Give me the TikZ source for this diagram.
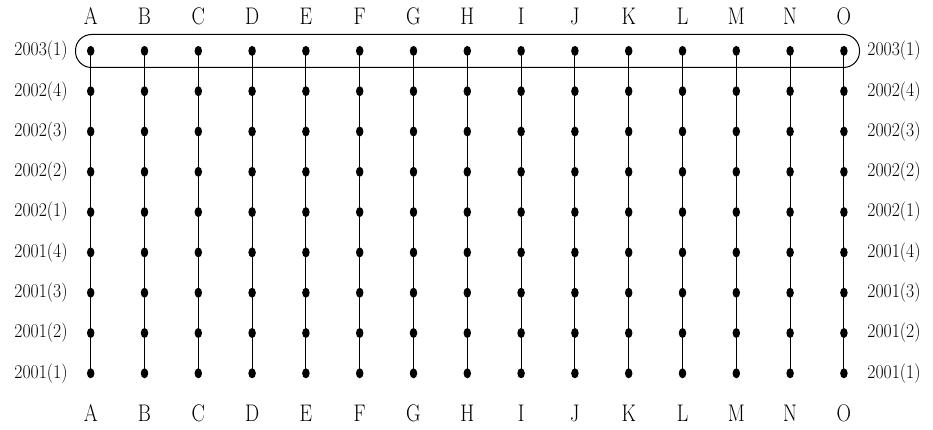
\documentclass[tikz,border=0pt]{standalone}
\usepackage{fontspec}
\usetikzlibrary{shapes.geometric}

\tikzset{
  dot/.style={ellipse, fill, inner sep=0pt, minimum width=7.5pt, minimum height=10pt},
  collbl/.style={yscale=1.2, inner sep=0pt, font=\fontsize{20}{24}\selectfont},
  rowlbl/.style={yscale=1.1, inner sep=0pt, font=\fontsize{17.7}{21}\selectfont},
}

\begin{document}
\begin{tikzpicture}[x=1pt, y=-1pt, line width=1pt]

    \useasboundingbox (0,0) rectangle (933,430);

    % Columns A to O with their dots
    \foreach \c [count=\i from 0] in {A,B,C,D,E,F,G,H,I,J,K,L,M,N,O} {
        \pgfmathsetmacro\xx{90.7+53.8*\i}
        \node[collbl] (top-\c) at (\xx,16.5) {\c};
        \node[collbl] (bot-\c) at (\xx,413) {\c};
        \foreach \r in {1,...,9}
            \node[dot] (\c-\r) at (\xx,{373.3-40.3*(\r-1)}) {};
        \draw (\c-9.center) -- (\c-1.center);
    }

    % Row labels, left and right
    \foreach \t [count=\r] in {{2001(1)},{2001(2)},{2001(3)},{2001(4)},{2002(1)},{2002(2)},{2002(3)},{2002(4)},{2003(1)}} {
        \node[rowlbl] (left-\r) at (41,{373.3-40.3*(\r-1)}) {\t};
        \node[rowlbl] (right-\r) at (894,{373.3-40.3*(\r-1)}) {\t};
    }

    % Box round the top row
    \draw[rounded corners=16pt] (75.5,34.5) rectangle (859.5,67.5);

\end{tikzpicture}
\end{document}
